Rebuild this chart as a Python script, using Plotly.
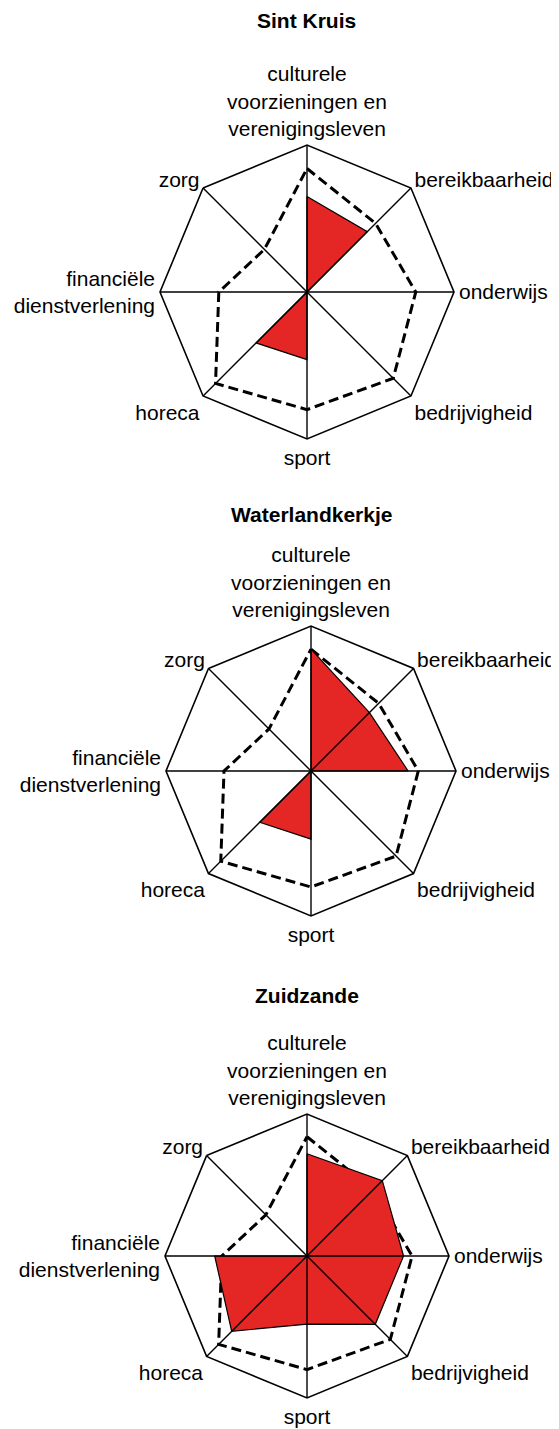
import plotly.graph_objects as go

categories = ["culturele<br>voorzieningen en<br>verenigingsleven", "bereikbaarheid", "onderwijs",
              "bedrijvigheid", "sport", "horeca", "financiële<br>dienstverlening", "zorg"]
titles = ["Sint Kruis", "Waterlandkerkje", "Zuidzande"]
reference = [0.84, 0.66, 0.74, 0.83, 0.80, 0.88, 0.60, 0.41]
sint_kruis = [0.65, 0.58, 0, 0, 0.46, 0.49, 0, 0]
waterlandkerkje = [0.84, 0.57, 0.67, 0, 0.47, 0.50, 0, 0]
zuidzande = [0.72, 0.75, 0.68, 0.68, 0.48, 0.75, 0.65, 0]
series = [sint_kruis, waterlandkerkje, zuidzande]
r_max = 1.0

OFF = 8  # page body margin
W, H = 559 - OFF, 1429 - OFF
# (center x, center y from top, radius) in page pixels for each panel
panels = [(307, 292, 147), (311, 771, 145), (307, 1256, 142)]
title_y = [20, 515, 995]

FONT = "Arial, Liberation Sans, sans-serif"
RED = "#E42624"

fig = go.Figure()
for i, vals in enumerate(series):
    sub = "polar" if i == 0 else f"polar{i+1}"
    th = categories + [categories[0]]
    fig.add_trace(go.Scatterpolar(r=reference + [reference[0]], theta=th, mode="lines",
                                  line=dict(color="black", width=3, dash="10px,5px"),
                                  subplot=sub, hoverinfo="skip"))
    fig.add_trace(go.Scatterpolar(r=vals + [vals[0]], theta=th, mode="lines", fill="toself",
                                  fillcolor=RED, line=dict(color="black", width=1.2),
                                  subplot=sub))
    sr, st = [], []
    for c in categories:
        sr += [0, r_max, None]
        st += [c, c, c]
    fig.add_trace(go.Scatterpolar(r=sr, theta=st, mode="lines",
                                  line=dict(color="black", width=1.4),
                                  subplot=sub, hoverinfo="skip", connectgaps=False))
    cx, cy, R = panels[i]
    cx -= OFF
    cy -= OFF
    polar = dict(
        domain=dict(x=[(cx - R) / W, (cx + R) / W], y=[(H - cy - R) / H, (H - cy + R) / H]),
        gridshape="linear",
        bgcolor="white",
        radialaxis=dict(visible=False, range=[0, r_max]),
        angularaxis=dict(type="category", categoryarray=categories, rotation=90,
                         direction="clockwise", showline=True, linecolor="black", linewidth=1.6,
                         showgrid=False, ticks="", tickfont=dict(size=21, color="black", family=FONT)),
    )
    fig.update_layout({sub: polar})
    fig.add_annotation(text=f"<b>{titles[i]}</b>", x=cx / W, y=1 - (title_y[i] - OFF) / H,
                       xref="paper", yref="paper", showarrow=False,
                       xanchor="center", yanchor="middle",
                       font=dict(size=21, color="black", family=FONT))

fig.update_layout(width=W, height=H, margin=dict(l=0, r=0, t=0, b=0),
                  paper_bgcolor="white", plot_bgcolor="white", showlegend=False,
                  font=dict(family=FONT, color="black"))
fig.write_html("out.html")
